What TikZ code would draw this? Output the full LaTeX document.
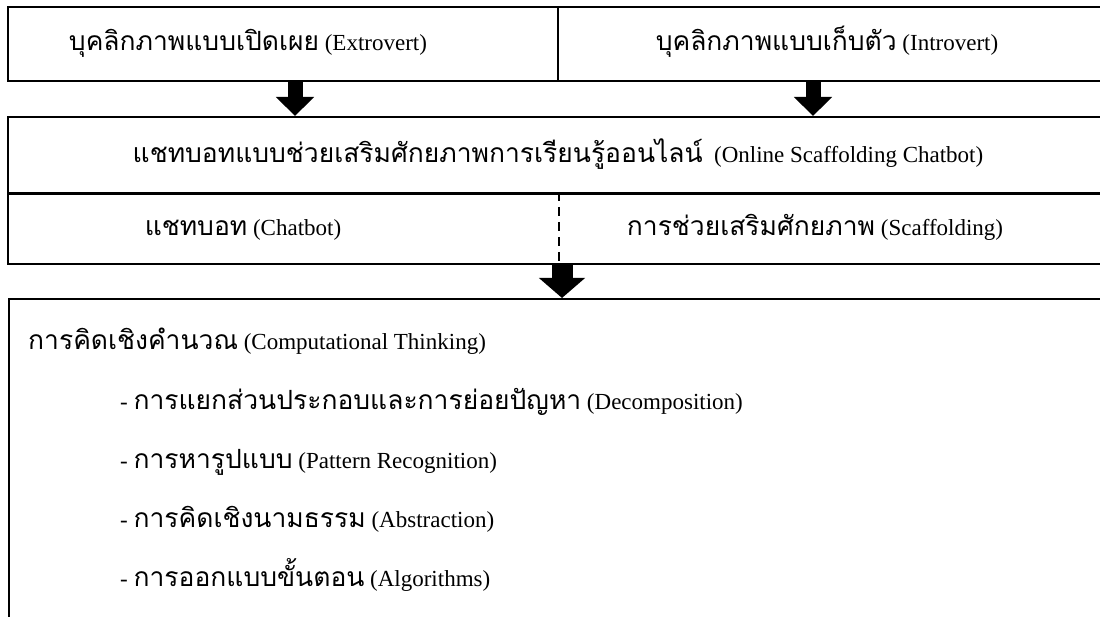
\documentclass[tikz,border=0pt]{standalone}
\usepackage{fontspec}
\setmainfont{Liberation Serif}
\newfontfamily\thaifont[Script=Thai,Scale=1.15]{Loma}
\usetikzlibrary{arrows.meta}
\newcommand{\thtxt}[1]{{\thaifont #1}}
\begin{document}
\begin{tikzpicture}[x=1pt,y=-1pt,
  font=\fontsize{23}{27}\selectfont,
  boxline/.style={draw=black, line width=2pt, inner sep=0pt, anchor=north west},
  lbl/.style={inner sep=0pt, anchor=base},
  lblw/.style={inner sep=0pt, anchor=base west},
  fatarrow/.style={line width=15pt, -{Triangle[width=37pt,length=19pt]}},
  bigarrow/.style={line width=21pt, -{Triangle[width=45pt,length=20pt]}}]
\useasboundingbox (0,0) rectangle (1100,617);
\clip (0,0) rectangle (1100,617);
% top row
\node[boxline, minimum width=550pt, minimum height=74pt] (ext) at (7,6) {};
\node[boxline, minimum width=560pt, minimum height=74pt] (intro) at (557,6) {};
% middle
\node[boxline, minimum width=1110pt, minimum height=76pt] (mid) at (7,116) {};
\node[boxline, minimum width=1110pt, minimum height=71pt] (subrow) at (7,192) {};
\draw[line width=3pt] (mid.south west) -- (mid.south east);
\coordinate (dv) at (559,0);
\draw[dashed, line width=2pt, dash pattern=on 9pt off 6pt] (subrow.north -| dv) -- (subrow.south -| dv);
% bottom
\node[boxline, minimum width=1110pt, minimum height=400pt] (ct) at (8,298) {};
% arrows
\coordinate (ax1) at (295,0);
\coordinate (ax2) at (813,0);
\coordinate (ax3) at (562,0);
\draw[fatarrow] (ext.south -| ax1) -- (mid.north -| ax1);
\draw[fatarrow] (intro.south -| ax2) -- (mid.north -| ax2);
\draw[bigarrow] (subrow.south -| ax3) -- (ct.north -| ax3);
% labels
\node[lbl] (t1) at (248,51) {\thtxt{บุคลิกภาพแบบเปิดเผย} (Extrovert)};
\node[lbl] (t2) at (827,51) {\thtxt{บุคลิกภาพแบบเก็บตัว} (Introvert)};
\node[lbl] (t3) at (558,163) {\thtxt{แชทบอทแบบช่วยเสริมศักยภาพการเรียนรู้ออนไลน์}\ \ (Online Scaffolding Chatbot)};
\node[lbl] (t4) at (243,236) {\thtxt{แชทบอท} (Chatbot)};
\node[lbl] (t5) at (815,236) {\thtxt{การช่วยเสริมศักยภาพ} (Scaffolding)};
\node[lblw] (c0) at (28,350) {\thtxt{การคิดเชิงคำนวณ} (Computational Thinking)};
\node[lblw] (c1) at (120,409) {- \thtxt{การแยกส่วนประกอบและการย่อยปัญหา} (Decomposition)};
\node[lblw] (c2) at (120,468) {- \thtxt{การหารูปแบบ} (Pattern Recognition)};
\node[lblw] (c3) at (120,527) {- \thtxt{การคิดเชิงนามธรรม} (Abstraction)};
\node[lblw] (c4) at (120,586) {- \thtxt{การออกแบบขั้นตอน} (Algorithms)};
\end{tikzpicture}
\end{document}
